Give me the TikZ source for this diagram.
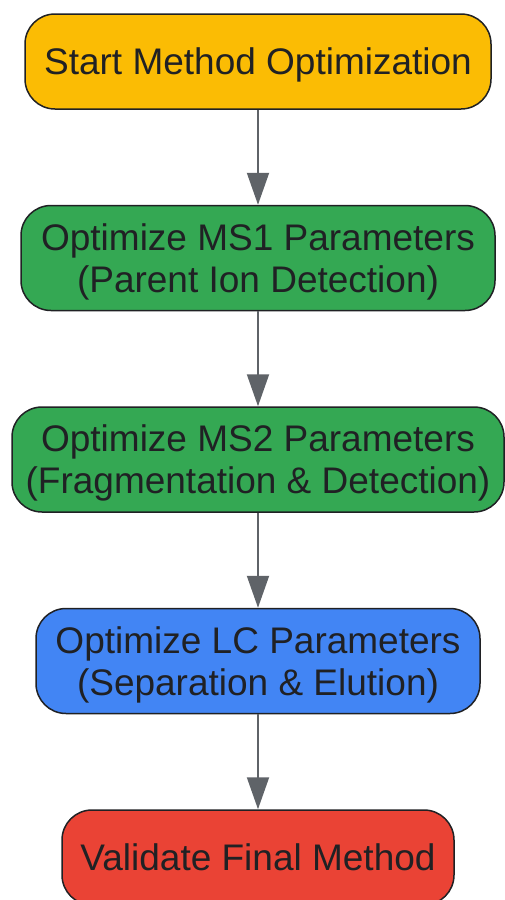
\documentclass[tikz,border=0pt]{standalone}
\usepackage{fontspec}
\setmainfont{Liberation Sans}
\usetikzlibrary{positioning,arrows.meta}
\definecolor{startcol}{HTML}{FBBC04}
\definecolor{mscol}{HTML}{34A853}
\definecolor{lccol}{HTML}{4285F4}
\definecolor{endcol}{HTML}{EA4335}
\definecolor{edgecol}{HTML}{202124}
\definecolor{arrowcol}{HTML}{5F6368}

\begin{document}
\begin{tikzpicture}[x=1pt,y=1pt]
    \tikzset{step node/.style = {rounded corners=30pt, draw=edgecol, line width=1.5pt, text=edgecol,
        align=center, inner sep=0pt, text depth=-2pt, font=\fontsize{37}{42}\selectfont},
        flow/.style = {-{Triangle[width=22pt,length=32pt]}, line width=2pt, draw=arrowcol, fill=arrowcol}}
    \useasboundingbox (0,0) rectangle (505,-900);
    \node[step node, fill=startcol, minimum width=466pt, minimum height=95pt] (start) at (258,-61.5) {Start Method Optimization};
    \node[step node, fill=mscol, minimum width=474pt, minimum height=105pt] (msone) [below = 95pt of start] {Optimize MS1 Parameters\\(Parent Ion Detection)};
    \node[step node, fill=mscol, minimum width=492pt, minimum height=105pt] (mstwo) [below = 95pt of msone] {Optimize MS2 Parameters\\(Fragmentation \& Detection)};
    \node[step node, fill=lccol, minimum width=444pt, minimum height=105pt] (lc) [below = 95pt of mstwo] {Optimize LC Parameters\\(Separation \& Elution)};
    \node[step node, fill=endcol, minimum width=392pt, minimum height=95pt] (final) [below = 95pt of lc] {Validate Final Method};
    \path
    %from        to
    (start) edge[flow] (msone)
    (msone) edge[flow] (mstwo)
    (mstwo) edge[flow] (lc)
    (lc)    edge[flow] (final)
   ;
\end{tikzpicture}
\end{document}
